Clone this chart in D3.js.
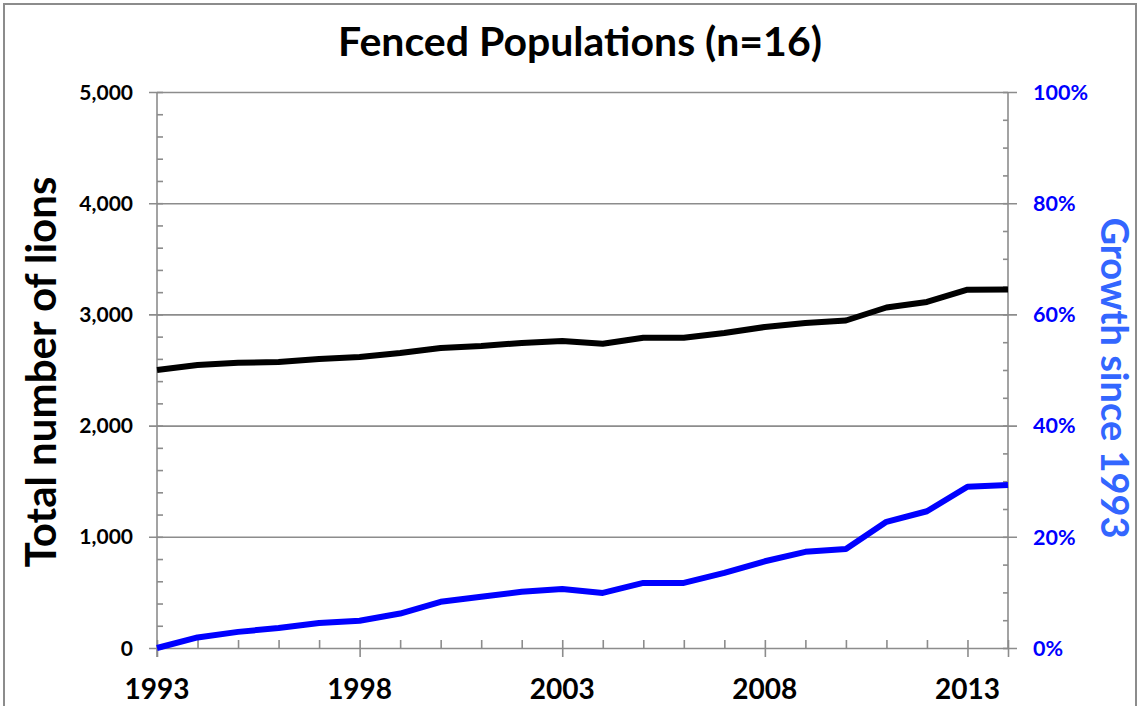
<!DOCTYPE html>
<html>
<head>
<meta charset="utf-8">
<style>
body { margin: 0; background: #fff; }
text { font-family: Lato, "Open Sans", sans-serif; font-weight: bold; }
.axis .domain { display: none; }
.axis line { stroke: #8c8c8c; stroke-width: 1.6px; }
.line { fill: none; stroke-width: 6px; stroke-linejoin: round; }
</style>
</head>
<body>
<svg width="1140" height="706" id="chart"></svg>
<script src="https://d3js.org/d3.v7.min.js"></script>
<script>
// data
var years = [1993, 1994, 1995, 1996, 1997, 1998, 1999, 2000, 2001, 2002, 2003,
             2004, 2005, 2006, 2007, 2008, 2009, 2010, 2011, 2012, 2013, 2014];
var lions = [2500, 2545, 2565, 2572, 2599, 2617, 2653, 2698, 2716, 2743, 2761,
             2736, 2790, 2790, 2833, 2887, 2923, 2945, 3062, 3112, 3222, 3225];
var growth = [0, 1.9, 2.9, 3.6, 4.5, 4.9, 6.2, 8.3, 9.2, 10.1, 10.6,
              9.9, 11.7, 11.7, 13.5, 15.6, 17.3, 17.8, 22.7, 24.6, 29.0, 29.3];
var majorYears = [1993, 1998, 2003, 2008, 2013];
var leftTicks = [0, 1000, 2000, 3000, 4000, 5000];
var rightTicks = [0, 20, 40, 60, 80, 100];

var svg = d3.select("#chart"),
    margin = {top: 92, right: 132, bottom: 58, left: 157},
    width = 1140 - margin.left - margin.right,
    height = 706 - margin.top - margin.bottom;

// outer frame
svg.append("rect")
    .attr("x", 4).attr("y", 4)
    .attr("width", 1132).attr("height", 740)
    .attr("fill", "none")
    .attr("stroke", "#8c8c8c")
    .attr("stroke-width", 2);

var g = svg.append("g").attr("transform", "translate(" + margin.left + "," + margin.top + ")");

var x = d3.scaleLinear().domain([1993, 2014]).range([0, width]);
var y = d3.scaleLinear().domain([0, 5000]).range([height, 0]);
var y2 = d3.scaleLinear().domain([0, 100]).range([height, 0]);

// gridlines (also act as major ticks on both sides)
g.append("g")
    .attr("class", "axis")
    .call(d3.axisLeft(y).tickValues(leftTicks).tickSize(-(width + 17)).tickFormat(""))
    .attr("transform", "translate(-8,0)");

// left minor ticks
g.append("g")
    .attr("class", "axis")
    .call(d3.axisLeft(y).tickValues(d3.range(0, 5001, 200)).tickSize(-6).tickFormat(""));

// right minor ticks
g.append("g")
    .attr("class", "axis")
    .attr("transform", "translate(" + width + ",0)")
    .call(d3.axisRight(y2).tickValues(d3.range(0, 101, 5)).tickSize(-5).tickFormat(""));

// bottom minor ticks (inside) and major ticks (crossing)
g.append("g")
    .attr("class", "axis")
    .attr("transform", "translate(0," + height + ")")
    .call(d3.axisBottom(x).tickValues(years).tickSize(-8).tickFormat(""));
g.append("g")
    .attr("class", "axis")
    .attr("transform", "translate(0," + height + ")")
    .call(d3.axisBottom(x).tickValues(majorYears.concat([2014])).tickSize(9).tickFormat(""));

// axis lines
g.append("line")
    .attr("x1", 0).attr("x2", 0).attr("y1", 0).attr("y2", height + 9)
    .attr("stroke", "#8c8c8c").attr("stroke-width", 1.6);
g.append("line")
    .attr("x1", width).attr("x2", width).attr("y1", 0).attr("y2", height)
    .attr("stroke", "#8c8c8c").attr("stroke-width", 1.6);

// tick labels
g.selectAll(".ylab")
    .data(leftTicks)
  .enter().append("text")
    .attr("x", -24)
    .attr("y", function(d) { return y(d); })
    .attr("dy", "0.36em")
    .attr("text-anchor", "end")
    .style("font-size", "21px")
    .attr("fill", "#000")
    .text(function(d) { return d3.format(",")(d); });

g.selectAll(".y2lab")
    .data(rightTicks)
  .enter().append("text")
    .attr("x", width + 25)
    .attr("y", function(d) { return y2(d); })
    .attr("dy", "0.36em")
    .style("font-size", "21.5px")
    .attr("fill", "#0000ff")
    .text(function(d) { return d + "%"; });

g.selectAll(".xlab")
    .data(majorYears)
  .enter().append("text")
    .attr("x", function(d) { return x(d); })
    .attr("y", height + 51)
    .attr("text-anchor", "middle")
    .style("font-size", "28px")
    .attr("fill", "#000")
    .text(function(d) { return d; });

// lines
var lionLine = d3.line()
    .x(function(d, i) { return x(years[i]); })
    .y(function(d) { return y(d); });
var growthLine = d3.line()
    .x(function(d, i) { return x(years[i]); })
    .y(function(d) { return y2(d); });

g.append("path")
    .datum(lions)
    .attr("class", "line")
    .attr("stroke", "#000")
    .attr("d", lionLine);
g.append("path")
    .datum(growth)
    .attr("class", "line")
    .attr("stroke", "#0000ff")
    .attr("d", growthLine);

// titles
svg.append("text")
    .attr("x", 580)
    .attr("y", 56)
    .attr("text-anchor", "middle")
    .style("font-size", "41px")
    .attr("fill", "#000")
    .text("Fenced Populations (n=16)");

svg.append("text")
    .attr("transform", "translate(56," + 372 + ") rotate(-90)")
    .attr("text-anchor", "middle")
    .style("font-size", "42px")
    .attr("fill", "#000")
    .text("Total number of lions");

svg.append("text")
    .attr("transform", "translate(1101," + 378 + ") rotate(90)")
    .attr("text-anchor", "middle")
    .style("font-size", "38px")
    .attr("fill", "#3366ff")
    .text("Growth since 1993");
</script>
</body>
</html>
